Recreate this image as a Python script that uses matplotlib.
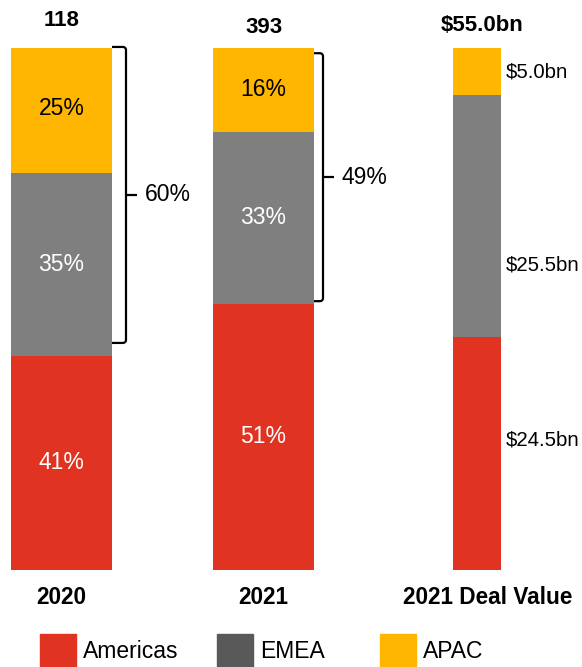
import numpy as np
import matplotlib.pyplot as plt
from matplotlib.patches import Rectangle

plt.rcParams['font.family'] = ['Liberation Sans', 'DejaVu Sans']

regions = ['Americas', 'EMEA', 'APAC']
bar_labels = ['2020', '2021', '2021 Deal Value']
totals = ['118', '393', '$55.0bn']
share_2020 = [41, 35, 25]
share_2021 = [51, 33, 16]
value_2021 = [24.5, 25.5, 5.0]
bracket_labels = ['60%', '49%']

colors = ['#E03321', '#7F7F7F', '#FFB600']
legend_colors = ['#E03321', '#595959', '#FFB600']
text_colors = ['white', 'white', 'black']

W, H = 582, 667
fig = plt.figure(figsize=(W / 100, H / 100), dpi=100)
ax = fig.add_axes([0, (H - 570) / H, 1, 522 / H])
ax.set_xlim(0, W)
ax.set_ylim(0, 100)
ax.axis('off')

centers = [61.5, 263.5, 477]
widths = [101, 101, 48]

# deal value converted to share of the bar height
deal_share = list(np.array(value_2021) / sum(value_2021) * 100)
stacks = [share_2020, share_2021, deal_share]

for i, vals in enumerate(stacks):
    bottom = 0
    for j, v in enumerate(vals):
        ax.bar(centers[i], v, bottom=bottom, width=widths[i], color=colors[j], linewidth=0)
        bottom += v

# percentage labels inside the two left bars
for i, vals in enumerate([share_2020, share_2021]):
    bottom = 0
    for j, v in enumerate(vals):
        ax.text(centers[i], bottom + v / 2, f'{v}%', ha='center', va='center',
                color=text_colors[j], fontsize=16.5)
        bottom += v

# value labels beside the deal value bar
pos_frac = [0.56, 0.30, 0.5]
bottom = 0
for j, v in enumerate(deal_share):
    ax.text(centers[2] + widths[2] / 2 + 5, bottom + v * pos_frac[j], f'${value_2021[j]:.1f}bn',
            ha='left', va='center', fontsize=14.7)
    bottom += v

# totals on top, names below
tot_y = [105.2, 104.0, 104.4]
tot_x = [61.5, 263.5, 482]
for i in range(3):
    ax.text(tot_x[i], tot_y[i], totals[i], ha='center', va='center',
            fontsize=16, fontweight='bold', clip_on=False)
lab_x = [61.5, 263.5, 488]
for i in range(3):
    ax.text(lab_x[i], -5.2, bar_labels[i], ha='center', va='center',
            fontsize=16.3, fontweight='bold', clip_on=False)

# brackets around EMEA + APAC
lo_pad = [2.5, 0.5]
hi_pad = [0.8, 1.0]
arm = [14, 9]
ry = 3 / 5.22
for i, vals in enumerate([share_2020, share_2021]):
    x0 = centers[i] + widths[i] / 2
    xv = x0 + arm[i]
    lo = vals[0] + lo_pad[i]
    hi = sum(vals) - hi_pad[i]
    mid = (lo + hi) / 2
    t = np.linspace(0, np.pi / 2, 8)
    top_x = np.r_[x0, xv - 3 + 3 * np.sin(t)]
    top_y = np.r_[hi, hi - ry + ry * np.cos(t)]
    bot_x = np.r_[xv - 3 + 3 * np.sin(t[::-1]), x0]
    bot_y = np.r_[lo + ry - ry * np.cos(t[::-1]), lo]
    ax.plot(np.r_[top_x, bot_x], np.r_[top_y, bot_y], color='black', lw=1.6,
            solid_capstyle='butt', clip_on=False)
    ax.plot([xv, xv + 11], [mid, mid], color='black', lw=1.6, solid_capstyle='butt')
    ax.text(xv + 19, mid, bracket_labels[i], ha='left', va='center', fontsize=16.5)

# legend
leg_x = [40, 217, 380]
for k, name in enumerate(regions):
    fig.patches.append(Rectangle((leg_x[k] / W, 0), 36 / W, 33 / H,
                                 transform=fig.transFigure, color=legend_colors[k]))
    fig.text((leg_x[k] + 43) / W, (H - 652) / H, name, ha='left', va='center', fontsize=16.5)

fig.savefig('out.png', dpi=100)
